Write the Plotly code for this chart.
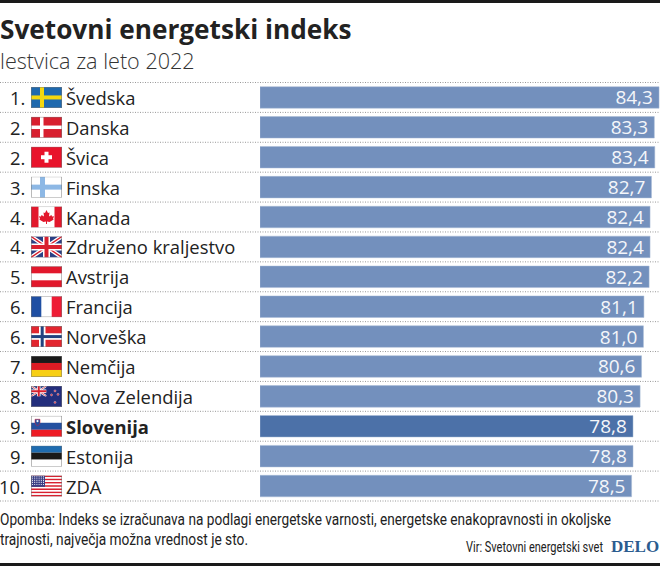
import base64
import plotly.graph_objects as go

ranks = ["1.", "2.", "2.", "3.", "4.", "4.", "5.", "6.", "6.", "7.", "8.", "9.", "9.", "10."]
countries = ["Švedska", "Danska", "Švica", "Finska", "Kanada", "Združeno kraljestvo", "Avstrija",
             "Francija", "Norveška", "Nemčija", "Nova Zelendija", "Slovenija", "Estonija", "ZDA"]
values = [84.3, 83.3, 83.4, 82.7, 82.4, 82.4, 82.2, 81.1, 81.0, 80.6, 80.3, 78.8, 78.8, 78.5]
flag_keys = ["se", "dk", "ch", "fi", "ca", "gb", "at", "fr", "no", "de", "nz", "si", "ee", "us"]
highlight = "Slovenija"

W, H = 660, 566
TOP, BOTTOM = 82.5, 501.0
ROW = (BOTTOM - TOP) / len(countries)

BAR = "#7390BD"
BAR_HI = "#4C71A8"
INK = "#222222"
NARROW = "Roboto, sans-serif"
SANS = "Open Sans, sans-serif"


def rects(*items):
    return "".join(f'<rect x="{x}" y="{y}" width="{w}" height="{h}" fill="{c}"/>' for x, y, w, h, c in items)


def union(extra=""):
    return ('<rect width="31" height="21" fill="#2A3F85"/>'
            '<path d="M0 0L31 21M31 0L0 21" stroke="#fff" stroke-width="4"/>'
            '<path d="M0 0L31 21M31 0L0 21" stroke="#D8202F" stroke-width="1.4"/>'
            '<path d="M15.5 0V21M0 10.5H31" stroke="#fff" stroke-width="7"/>'
            '<path d="M15.5 0V21M0 10.5H31" stroke="#D8202F" stroke-width="4"/>') + extra


us_stripes = "".join(
    f'<rect y="{i * 21 / 13:.2f}" width="31" height="{21 / 13:.2f}" fill="{"#D8202F" if i % 2 == 0 else "#fff"}"/>'
    for i in range(13))
us_stars = "".join(f'<circle cx="{1.5 + c * 2.2:.1f}" cy="{1.3 + r * 1.9:.1f}" r="0.55" fill="#fff"/>'
                   for r in range(5) for c in range(6))
nz_stars = "".join(f'<circle cx="{x}" cy="{y}" r="1" fill="#D8202F" stroke="#fff" stroke-width="0.4"/>'
                   for x, y in [(24, 5), (20.5, 9), (27, 8.5), (24, 16.5)])

FLAGS = {
    "se": rects((0, 0, 31, 21, "#1F69AE"), (9, 0, 4, 21, "#F5D70F"), (0, 8.5, 31, 4, "#F5D70F")),
    "dk": rects((0, 0, 31, 21, "#D8202F"), (9, 0, 3.5, 21, "#fff"), (0, 8.7, 31, 3.5, "#fff")),
    "ch": rects((0, 0, 31, 21, "#E8132B"), (13.5, 5, 4, 11, "#fff"), (10, 8.5, 11, 4, "#fff")),
    "fi": rects((0, 0, 31, 21, "#fff"), (9, 0, 5, 21, "#8DB8E5"), (0, 8, 31, 5, "#8DB8E5")),
    "ca": rects((0, 0, 31, 21, "#fff"), (0, 0, 7.5, 21, "#E2182C"), (23.5, 0, 7.5, 21, "#E2182C"))
          + '<path d="M15.5 3.5L17 6.5L18.5 6L18 10L20.5 8.5L21 10L23 9.8L22 12.5L22.8 13L18.5 15.5L16 15L16 17.5H15L15 15L12.5 15.5L8.2 13L9 12.5L8 9.8L10 10L10.5 8.5L13 10L12.5 6L14 6.5Z" fill="#E2182C"/>',
    "gb": union(),
    "at": rects((0, 0, 31, 21, "#fff"), (0, 0, 31, 7, "#E2182C"), (0, 14, 31, 7, "#E2182C")),
    "fr": rects((0, 0, 31, 21, "#fff"), (0, 0, 10.3, 21, "#1F4FA3"), (20.7, 0, 10.3, 21, "#EE1C35")),
    "no": rects((0, 0, 31, 21, "#E2262F"), (8, 0, 6.5, 21, "#fff"), (0, 7.2, 31, 6.5, "#fff"),
                (9.7, 0, 3, 21, "#23427F"), (0, 9, 31, 3, "#23427F")),
    "de": rects((0, 0, 31, 7, "#1A1A1A"), (0, 7, 31, 7, "#DD1C24"), (0, 14, 31, 7, "#F7CF14")),
    "nz": '<rect width="31" height="21" fill="#232E7C"/>'
          + '<svg x="0" y="0" width="15.5" height="10.5" viewBox="0 0 31 21" preserveAspectRatio="none">'
          + union() + '</svg>' + nz_stars,
    "si": rects((0, 0, 31, 7, "#fff"), (0, 7, 31, 7, "#2450A0"), (0, 14, 31, 7, "#EE1C25"))
          + '<path d="M4 3.5H9V7Q9 9 6.5 10Q4 9 4 7Z" fill="#2450A0" stroke="#E2182C" stroke-width="0.5"/>'
          + '<circle cx="6.5" cy="5.3" r="1.1" fill="#fff"/>',
    "ee": rects((0, 0, 31, 7, "#1F6CB0"), (0, 7, 31, 7, "#1A1A1A"), (0, 14, 31, 7, "#fff")),
    "us": us_stripes + rects((0, 0, 14, 11.3, "#3B3F85")) + us_stars,
}


def flag_uri(key):
    svg = ('<svg xmlns="http://www.w3.org/2000/svg" width="93" height="63" viewBox="0 0 31 21" '
           'preserveAspectRatio="none">' + FLAGS[key]
           + '<rect x="0.25" y="0.25" width="30.5" height="20.5" fill="none" stroke="#777" stroke-width="0.5"/></svg>')
    return "data:image/svg+xml;base64," + base64.b64encode(svg.encode("utf-8")).decode("ascii")


def row_center(i):
    return 1 - (TOP + (i + 0.5) * ROW) / H


def text(x, y, s, size, color=INK, family=SANS, anchor="left", weight=None):
    font = dict(size=size, color=color, family=family)
    if weight:
        font["weight"] = weight
    return dict(x=x / W, y=1 - y / H, xref="paper", yref="paper", text=s, showarrow=False,
                xanchor=anchor, yanchor="middle", font=font, borderpad=0, borderwidth=0)


fig = go.Figure(go.Bar(
    x=values,
    y=countries,
    orientation="h",
    width=0.72,
    marker=dict(color=[BAR_HI if c == highlight else BAR for c in countries],
                line=dict(color="#A9BAD6", width=0.5)),
    text=[f"{v:.1f}".replace(".", ",") + "\u2009" for v in values],
    textposition="inside",
    insidetextanchor="end",
    textangle=0,
    constraintext="none",
    textfont=dict(size=19, color="#F4F6FA", family=SANS),
    hoverinfo="skip",
))

annotations = [
    text(0, 28.5, "Svetovni energetski indeks", 26.2, family=SANS, weight=700),
    text(0, 61, "lestvica za leto 2022", 21.6, color="#333333", family=SANS, weight=300),
    text(0, 519, "Opomba: Indeks se izračunava na podlagi energetske varnosti, energetske enakopravnosti in okoljske",
         16.5, family=NARROW),
    text(0, 539, "trajnosti, največja možna vrednost je sto.", 16.5, family=NARROW),
    text(466, 547, "Vir: Svetovni energetski svet", 14, family=NARROW),
    text(659, 546, "DELO", 17, color="#2B5C8F", family="Liberation Serif, serif", anchor="right", weight=700),
]
images = []
shapes = [
    dict(type="rect", xref="paper", yref="paper", x0=0, x1=1, y0=1 - 3 / H, y1=1,
         fillcolor="#1A1A1A", line_width=0),
    dict(type="rect", xref="paper", yref="paper", x0=0, x1=1, y0=0, y1=3 / H,
         fillcolor="#1A1A1A", line_width=0),
]
for i in range(len(countries) + 1):
    yy = 1 - (TOP + i * ROW) / H
    shapes.append(dict(type="line", xref="paper", yref="paper", x0=0, x1=1, y0=yy, y1=yy,
                       line=dict(color="#999999", width=1, dash="1px,1.5px"), layer="below"))
for i, (rank, name, key) in enumerate(zip(ranks, countries, flag_keys)):
    yc = (1 - row_center(i)) * H
    annotations.append(text(25, yc, rank, 18.4, anchor="right"))
    annotations.append(text(66, yc, f"<b>{name}</b>" if name == highlight else name, 18.4))
    images.append(dict(source=flag_uri(key), xref="paper", yref="paper", x=31 / W, y=row_center(i),
                       sizex=31 / W, sizey=21 / H, xanchor="left", yanchor="middle",
                       sizing="stretch", layer="above"))

fig.update_layout(
    width=W, height=H,
    autosize=False,
    margin=dict(l=0, r=0, t=0, b=0),
    paper_bgcolor="white",
    plot_bgcolor="white",
    showlegend=False,
    annotations=annotations,
    shapes=shapes,
    images=images,
    xaxis=dict(domain=[260 / W, 1], range=[0, 84.5], visible=False, fixedrange=True),
    yaxis=dict(domain=[1 - BOTTOM / H, 1 - TOP / H], type="category", categoryorder="array",
               categoryarray=countries, autorange="reversed", visible=False, fixedrange=True),
)

POST = """
document.body.style.margin='0';
document.documentElement.style.overflow='hidden';
var squeeze=[['Opomba',0,611],['trajnosti',0,248],['Vir:',466,137]];
function fitNotes(){
  var host=document.getElementById('{plot_id}').getBoundingClientRect();
  document.querySelectorAll('.annotation-text').forEach(function(t){
    squeeze.forEach(function(s){
      if(t.textContent.indexOf(s[0])===0){
        t.setAttribute('textLength',s[2]);
        t.setAttribute('lengthAdjust','spacingAndGlyphs');
        var r=t.getBoundingClientRect();
        t.setAttribute('x',parseFloat(t.getAttribute('x')||0)+s[1]-(r.left-host.left));
        var g=t.closest('.annotation');
        var bg=g?g.querySelector('rect.bg'):null;
        if(bg){bg.setAttribute('width',s[2]);}
      }
    });
  });
}
fitNotes();
setTimeout(fitNotes,50);
"""
fig.write_html("out.html", config=dict(displayModeBar=False), post_script=POST)
